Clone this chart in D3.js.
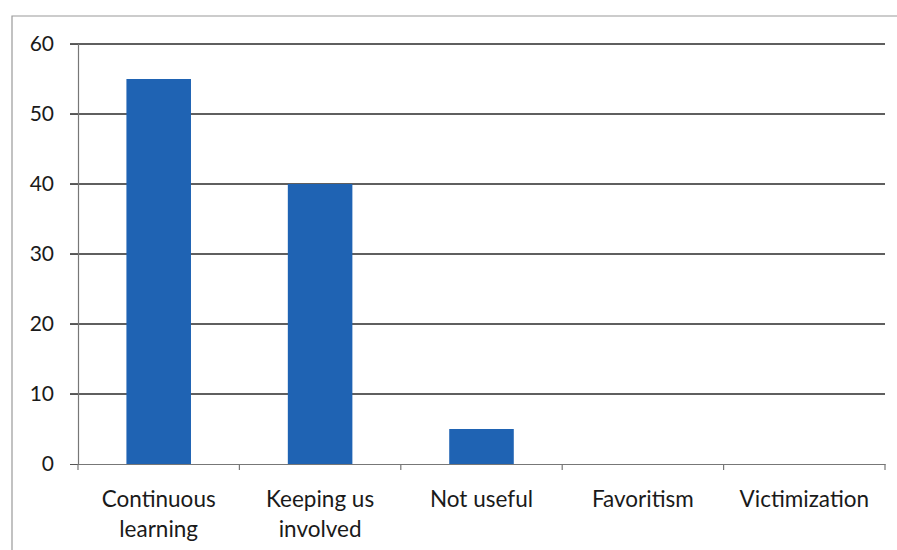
<!DOCTYPE html>
<html><head><meta charset="utf-8">
<script src="https://cdn.jsdelivr.net/npm/d3@7"></script>
<style>html,body{margin:0;padding:0;background:#fff;}svg{display:block;}</style>
</head><body>
<script>
const categories = [["Continuous","learning"],["Keeping us","involved"],["Not useful"],["Favoritism"],["Victimization"]];
const values = [55, 40, 5, 0, 0];
const yTicks = [0, 10, 20, 30, 40, 50, 60];

const W = 897, H = 550;
const m = {left: 78, right: 12, top: 44, bottom: 86};
const svg = d3.select("body").append("svg").attr("width", W).attr("height", H);

// outer frame
svg.append("path").attr("d", `M12,${H+2} L12,16 L${W+2},16`)
  .attr("fill","none").attr("stroke","#9a9a9a").attr("stroke-width",1.2);

const x = d3.scaleBand().domain(categories.map((d,i)=>i)).range([m.left, W - m.right]).padding(0);
const y = d3.scaleLinear().domain([0, 60]).range([H - m.bottom, m.top]);

const font = "Lato, 'Open Sans', sans-serif";

// gridlines
svg.append("g").selectAll("line").data(yTicks.filter(d=>d>0)).join("line")
  .attr("x1", m.left - 8).attr("x2", W - m.right)
  .attr("y1", d=>y(d)).attr("y2", d=>y(d))
  .attr("stroke","#2a2a2a").attr("stroke-width",1.3);

// y axis
const ya = svg.append("g").attr("transform",`translate(${m.left},0)`)
  .call(d3.axisLeft(y).tickValues(yTicks).tickSize(8).tickPadding(16));
ya.select(".domain").attr("stroke","#777").attr("stroke-width",1.2);
ya.selectAll(".tick line").attr("stroke","#555");
ya.selectAll("text").attr("font-family",font).attr("font-size",21).attr("fill","#1a1a1a");

// bars
const bw = x.bandwidth()*0.4;
svg.append("g").selectAll("rect").data(values).join("rect")
  .attr("x",(d,i)=>x(i)+x.bandwidth()/2-bw/2)
  .attr("width",bw)
  .attr("y",d=>y(d)).attr("height",d=>y(0)-y(d))
  .attr("fill","#1f63b3");

// x axis
const xa = svg.append("g").attr("transform",`translate(0,${y(0)})`)
  .call(d3.axisBottom(x).tickSize(0).tickFormat(""));
xa.select(".domain").attr("stroke","#777").attr("stroke-width",1.2);
const tickPos = d3.range(categories.length+1).map(i=>m.left + i*x.step());
xa.selectAll("line.sep").data(tickPos).join("line").attr("class","sep")
  .attr("x1",d=>d).attr("x2",d=>d).attr("y1",0).attr("y2",6)
  .attr("stroke","#777").attr("stroke-width",1.2);

// category labels
const lab = svg.append("g").selectAll("text").data(categories).join("text")
  .attr("x",(d,i)=>x(i)+x.bandwidth()/2)
  .attr("y", y(0)+43)
  .attr("text-anchor","middle")
  .attr("font-family",font).attr("font-size",22.5).attr("fill","#1a1a1a");
lab.selectAll("tspan").data(d=>d).join("tspan")
  .attr("x",function(){return this.parentNode.getAttribute("x");})
  .attr("dy",(d,i)=>i===0?0:30)
  .text(d=>d);
</script>
</body></html>
